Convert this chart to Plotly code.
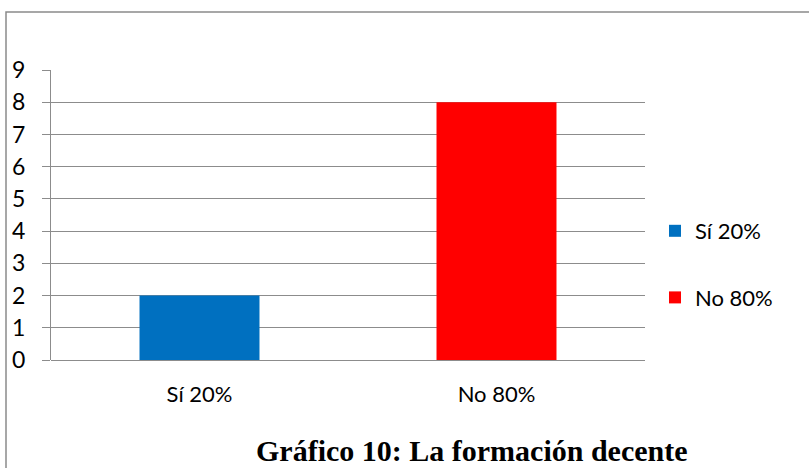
import plotly.graph_objects as go

categories = ["Sí 20%", "No 80%"]
values = [2, 8]
colors = ["#0070C0", "#FF0000"]
title_text = "Gráfico 10: La formación decente"

W, H = 809, 468
L, R, T, B = 51, 164, 70, 108
pw, ph = W - L - R, H - T - B

def px_x(p):
    return (p - L) / pw

def px_y(p):
    return (H - B - p) / ph

fig = go.Figure()
for i, (c, v, col) in enumerate(zip(categories, values, colors)):
    fig.add_trace(go.Bar(
        x=[c], y=[v], name=c, marker=dict(color=col, line=dict(width=0)),
        width=0.404, legendgroup=f"g{i}",
    ))

font_main = "Lato, Carlito, 'Open Sans', sans-serif"

fig.update_layout(
    width=W, height=H,
    margin=dict(l=L, r=R, t=T, b=B, autoexpand=False),
    paper_bgcolor="white", plot_bgcolor="white",
    barmode="overlay",
    showlegend=True,
    legend=dict(
        x=px_x(655), y=px_y(210), xanchor="left", yanchor="top",
        font=dict(family=font_main, size=22, color="#000"),
        tracegroupgap=35, bgcolor="rgba(0,0,0,0)",
    ),
    font=dict(family=font_main, size=22, color="#000"),
    xaxis=dict(
        categoryorder="array", categoryarray=categories,
        showline=False, showgrid=False, ticks="",
        tickfont=dict(size=22), ticklabelstandoff=19,
    ),
    yaxis=dict(
        range=[0, 9], dtick=1, tick0=0,
        showgrid=True, gridcolor="#8c8c8c", gridwidth=1,
        showline=True, linecolor="#8c8c8c", linewidth=1,
        ticks="outside", ticklen=8, tickcolor="#8c8c8c",
        tickfont=dict(size=23), ticklabelstandoff=12,
        zeroline=True, zerolinecolor="#8c8c8c", zerolinewidth=1,
    ),
    shapes=[
        dict(type="rect", xref="paper", yref="paper",
             x0=px_x(6), x1=px_x(815), y0=px_y(475), y1=px_y(12),
             line=dict(color="#8a8a8a", width=1.5), fillcolor="rgba(0,0,0,0)",
             layer="below"),
    ],
    annotations=[
        dict(text=title_text, xref="paper", yref="paper",
             x=px_x(472), y=px_y(450), xanchor="center", yanchor="middle",
             showarrow=False,
             font=dict(family="'Liberation Serif', 'Times New Roman', serif",
                       size=30, color="#000", weight="bold")),
    ],
)

fig.write_html("out.html", config={"displayModeBar": False},
               post_script="document.body.style.margin='0px';")
